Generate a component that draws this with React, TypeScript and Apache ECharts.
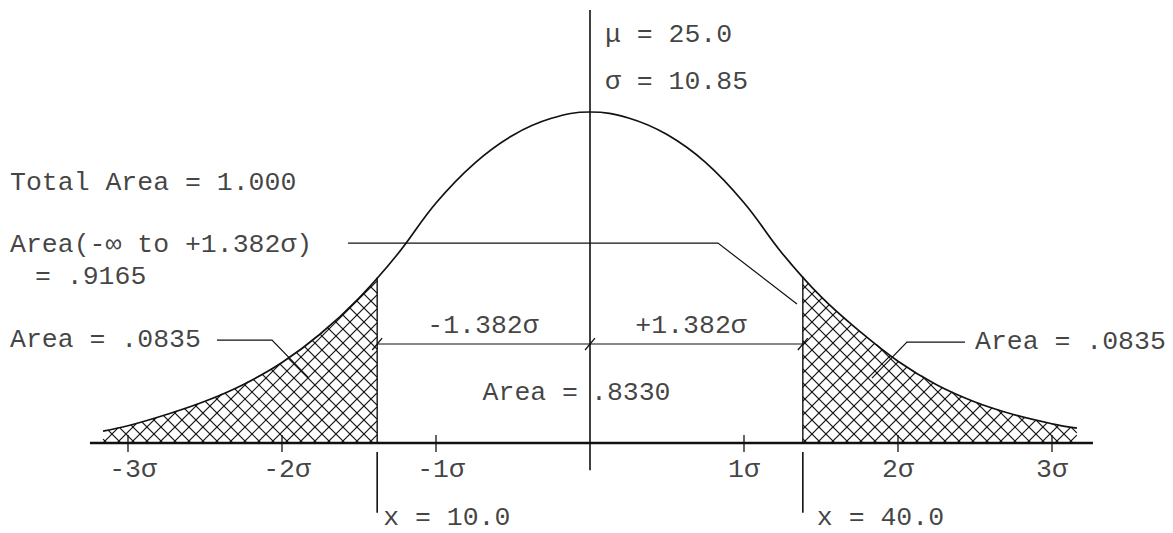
import React, { useEffect, useRef } from "react";
import * as echarts from "echarts";

// Curve: z in units of sigma, v = height relative to the peak
const CURVE_Z = [-3.162, -3.0, -2.75, -2.5, -2.25, -2.0, -1.75, -1.5, -1.25, -1.0, -0.75, -0.5, -0.25, 0, 0.25, 0.5, 0.75, 1.0, 1.25, 1.5, 1.75, 2.0, 2.25, 2.5, 2.75, 3.0, 3.162];
const CURVE_V = [0.036, 0.052, 0.086, 0.126, 0.177, 0.243, 0.33, 0.438, 0.57, 0.725, 0.845, 0.93, 0.981, 1.0, 0.982, 0.932, 0.848, 0.726, 0.572, 0.442, 0.338, 0.247, 0.176, 0.124, 0.086, 0.058, 0.045];

const TICK_Z = [-3, -2, -1, 1, 2, 3];
const TICK_LABELS = ["-3σ", "-2σ", "-1σ", "1σ", "2σ", "3σ"];
const CUT_Z = 1.382; // ±1.382σ
const CUT_LABELS = ["x = 10.0", "x = 40.0"];
const PARAM_LABELS = ["μ = 25.0", "σ = 10.85"];
const AREA_TOTAL = "Total Area = 1.000";
const AREA_CUM = ["Area(-∞ to +1.382σ)", "= .9165"];
const AREA_TAIL = "Area = .0835";
const AREA_MID = ["Area =", ".8330"];
const DIM_LABELS = ["-1.382σ", "+1.382σ"];

const FONT = "'Liberation Mono', 'DejaVu Sans Mono', monospace";
const INK = "#111";

function curveAt(z: number): number {
  for (let i = 0; i < CURVE_Z.length - 1; i++) {
    if (z >= CURVE_Z[i] && z <= CURVE_Z[i + 1]) {
      const t = (z - CURVE_Z[i]) / (CURVE_Z[i + 1] - CURVE_Z[i]);
      return CURVE_V[i] + t * (CURVE_V[i + 1] - CURVE_V[i]);
    }
  }
  return 0;
}

export default function App() {
  const ref = useRef<HTMLDivElement>(null);
  useEffect(() => {
    document.body.style.margin = "0";
    if (!ref.current) return;
    const chart = echarts.init(ref.current, null, { renderer: "svg" });

    const zL = CURVE_Z[0];
    const zR = CURVE_Z[CURVE_Z.length - 1];
    const topL = curveAt(-CUT_Z);
    const topR = curveAt(CUT_Z);

    const lineItems: any[] = [
      // mean line
      { coords: [[0, 1.308], [0, -0.082]], lineStyle: { width: 1.6 } },
      // base line
      { coords: [[-3.247, 0], [3.266, 0]], lineStyle: { width: 2.4 } },
      // tail boundaries
      { coords: [[-CUT_Z, 0], [-CUT_Z, topL]], lineStyle: { width: 1.4 } },
      { coords: [[CUT_Z, 0], [CUT_Z, topR]], lineStyle: { width: 1.4 } },
      // x markers below axis
      { coords: [[-CUT_Z, -0.027], [-CUT_Z, -0.211]], lineStyle: { width: 1.6 } },
      { coords: [[CUT_Z, -0.027], [CUT_Z, -0.211]], lineStyle: { width: 1.6 } },
      // dimension line
      { coords: [[-CUT_Z, 0.299], [CUT_Z, 0.299]], lineStyle: { width: 1.1 } },
      // leaders
      { coords: [[-1.571, 0.604], [0.831, 0.604], [1.344, 0.42]], lineStyle: { width: 1.2 } },
      { coords: [[-2.422, 0.311], [-2.065, 0.311], [-1.831, 0.199]], lineStyle: { width: 1.2 } },
      { coords: [[2.435, 0.305], [2.058, 0.305], [1.831, 0.196]], lineStyle: { width: 1.2 } },
    ];
    TICK_Z.forEach((z) => {
      lineItems.push({ coords: [[z, 0.024], [z, -0.027]], lineStyle: { width: 1.3 } });
    });
    [-CUT_Z, 0, CUT_Z].forEach((z) => {
      lineItems.push({ coords: [[z - 0.032, 0.281], [z + 0.032, 0.317]], lineStyle: { width: 1.3 } });
    });

    const labels: any[] = [];
    const addLabel = (text: string, z: number, v: number, align: string, offset: number[] = [0, 0]) =>
      labels.push({ value: [z, v], label: { formatter: text, align, offset } });

    addLabel(PARAM_LABELS[0], 0.097, 1.233, "left");
    addLabel(PARAM_LABELS[1], 0.097, 1.091, "left");
    addLabel(AREA_TOTAL, -3.766, 0.785, "left");
    addLabel(AREA_CUM[0], -3.766, 0.598, "left");
    addLabel(AREA_CUM[1], -3.604, 0.502, "left");
    addLabel(AREA_TAIL, -3.766, 0.311, "left");
    addLabel(AREA_TAIL, 2.5, 0.305, "left");
    addLabel(DIM_LABELS[0], -0.695, 0.353, "center");
    addLabel(DIM_LABELS[1], 0.656, 0.353, "center");
    addLabel(AREA_MID[0], 0, 0.151, "right", [-12, 0]);
    addLabel(AREA_MID[1], 0, 0.151, "left", [1, 0]);
    addLabel(CUT_LABELS[0], -CUT_Z, -0.227, "left", [6, 0]);
    addLabel(CUT_LABELS[1], CUT_Z, -0.227, "left", [14, 0]);
    TICK_Z.forEach((z, i) => addLabel(TICK_LABELS[i], z, -0.082, "center", [z < 0 ? 5 : 0, 0]));

    const option: any = {
      animation: false,
      backgroundColor: "#ffffff",
      grid: { left: 0, right: 0, top: 0, bottom: 0 },
      xAxis: { type: "value", min: -590 / 154, max: 583 / 154, show: false },
      yAxis: { type: "value", min: -90 / 331, max: 443 / 331, show: false },
      series: [
        {
          type: "custom",
          z: 1,
          silent: true,
          data: [[zL, -CUT_Z], [CUT_Z, zR]],
          encode: { x: [0, 1] },
          renderItem: (params: any, api: any) => {
            const zs = api.value(0);
            const ze = api.value(1);
            const pts = CURVE_Z.map((z, i) => api.coord([z, CURVE_V[i]]));
            const base = api.coord([0, 0])[1];
            const xs = api.coord([zs, 0])[0];
            const xe = api.coord([ze, 0])[0];
            const curveY = (x: number) => {
              for (let i = 0; i < pts.length - 1; i++) {
                const [x0, y0] = pts[i];
                const [x1, y1] = pts[i + 1];
                if (x >= x0 && x <= x1) return y0 + ((y1 - y0) * (x - x0)) / (x1 - x0);
              }
              return base;
            };
            let top = base;
            for (let x = xs; x <= xe; x += 1) top = Math.min(top, curveY(x));
            const step = 14;
            const children: any[] = [];
            const seg = (r: number[]) => ({
              type: "line",
              shape: { x1: r[0], y1: r[1], x2: r[2], y2: r[3] },
              style: { stroke: "#151515", lineWidth: 1.2 },
            });
            for (const d of [1, -1]) {
              const cMin = d === 1 ? top - xe : top + xs;
              const cMax = d === 1 ? base - xs : base + xe;
              for (let c = Math.floor(cMin / step) * step; c <= cMax; c += step) {
                let run: number[] | null = null;
                for (let x = xs; x <= xe + 0.001; x += 0.5) {
                  const y = d * x + c;
                  const inside = y <= base && y >= curveY(x);
                  if (inside) {
                    if (!run) run = [x, y, x, y];
                    else { run[2] = x; run[3] = y; }
                  } else if (run) {
                    children.push(seg(run));
                    run = null;
                  }
                }
                if (run) children.push(seg(run));
              }
            }
            return { type: "group", children };
          },
        },
        {
          type: "line",
          z: 3,
          silent: true,
          data: CURVE_Z.map((z, i) => [z, CURVE_V[i]]),
          smooth: 0.4,
          showSymbol: false,
          symbol: "none",
          lineStyle: { color: INK, width: 1.7 },
        },
        {
          type: "lines",
          z: 4,
          silent: true,
          coordinateSystem: "cartesian2d",
          polyline: true,
          data: lineItems,
          lineStyle: { color: INK, width: 1.2, opacity: 1 },
        },
        {
          type: "scatter",
          z: 5,
          silent: true,
          symbolSize: 1,
          itemStyle: { color: "rgba(0,0,0,0)" },
          data: labels,
          label: {
            show: true,
            position: "inside",
            verticalAlign: "middle",
            fontFamily: FONT,
            fontSize: 26.5,
            color: INK,
          },
        },
      ],
    };
    chart.setOption(option);
    return () => chart.dispose();
  }, []);
  return <div ref={ref} style={{ width: 1173, height: 533 }} />;
}
